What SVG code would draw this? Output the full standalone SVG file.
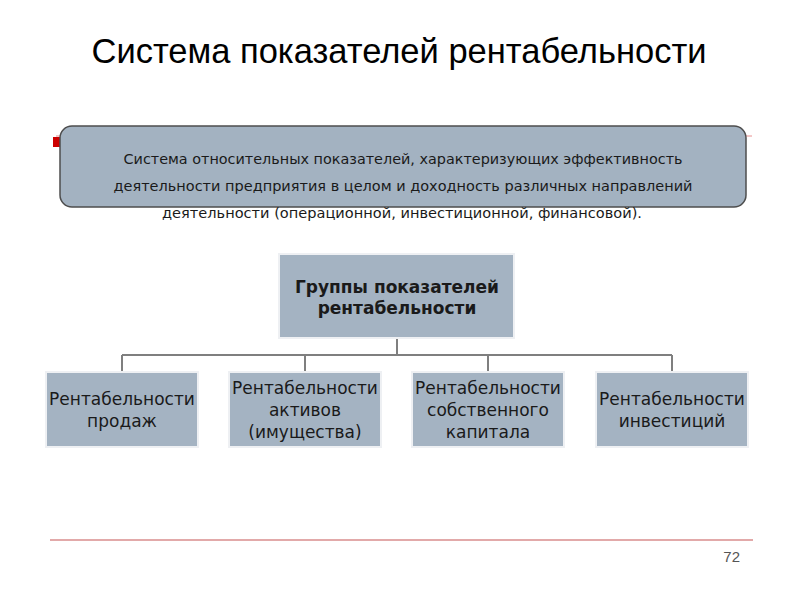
<svg xmlns="http://www.w3.org/2000/svg" width="800" height="600" viewBox="0 0 800 600">
<style>
.box{fill:#a4b3c2;stroke:#eef0f3;stroke-width:2}
.t{font-family:"DejaVu Sans",Verdana,sans-serif;font-size:17px;fill:#1a1a1a;text-anchor:middle}
.c{fill:none;stroke:#7f7f7f;stroke-width:2}
</style>
<rect width="800" height="600" fill="#fff"/>
<text x="399" y="63" font-family="Liberation Sans,Arial,sans-serif" font-size="34.5" fill="#000" text-anchor="middle">Система показателей рентабельности</text>
<line x1="56" y1="136" x2="752" y2="136" stroke="#e89090" stroke-width="1"/>
<rect x="53" y="137" width="8" height="10" fill="#cc0000"/>
<g id="definition">
<rect x="60" y="126" width="686" height="81" rx="12" fill="#a3b2c1" stroke="#4d4d4d" stroke-width="1.5"/>
<g font-family="DejaVu Sans Condensed,Liberation Sans,Arial,sans-serif" font-size="14" fill="#1a1a1a" text-anchor="middle">
<text x="403" y="164" textLength="559" lengthAdjust="spacingAndGlyphs">Система относительных показателей, характеризующих эффективность</text>
<text x="403" y="191" textLength="579" lengthAdjust="spacingAndGlyphs">деятельности предприятия в целом и доходность различных направлений</text>
<text x="402" y="218" textLength="480" lengthAdjust="spacingAndGlyphs">деятельности (операционной, инвестиционной, финансовой).</text>
</g>
</g>
<g id="connectors">
<path class="c" d="M397 338V355M122 355H672M122 355V371M305 355V371M488 355V371M672 355V371"/>
</g>
<g id="groups">
<rect class="box" x="279" y="254" width="235" height="84"/>
<text class="t" font-weight="bold" x="397" y="293">Группы показателей</text>
<text class="t" font-weight="bold" x="397" y="314">рентабельности</text>
</g>
<g id="sales">
<rect class="box" x="46" y="372" width="152" height="75"/>
<text class="t" x="122" y="405">Рентабельности</text>
<text class="t" x="122" y="427">продаж</text>
</g>
<g id="assets">
<rect class="box" x="229" y="372" width="152" height="75"/>
<text class="t" x="305" y="394">Рентабельности</text>
<text class="t" x="305" y="416">активов</text>
<text class="t" x="305" y="438">(имущества)</text>
</g>
<g id="equity">
<rect class="box" x="412" y="372" width="152" height="75"/>
<text class="t" x="488" y="394">Рентабельности</text>
<text class="t" x="488" y="416">собственного</text>
<text class="t" x="488" y="438">капитала</text>
</g>
<g id="investments">
<rect class="box" x="596" y="372" width="152" height="75"/>
<text class="t" x="672" y="405">Рентабельности</text>
<text class="t" x="672" y="427">инвестиций</text>
</g>
<line x1="50" y1="540" x2="753" y2="540" stroke="#d98c8c" stroke-width="1.5"/>
<text x="740" y="562" font-family="Liberation Sans,Arial,sans-serif" font-size="15" fill="#555" text-anchor="end">72</text>
</svg>
